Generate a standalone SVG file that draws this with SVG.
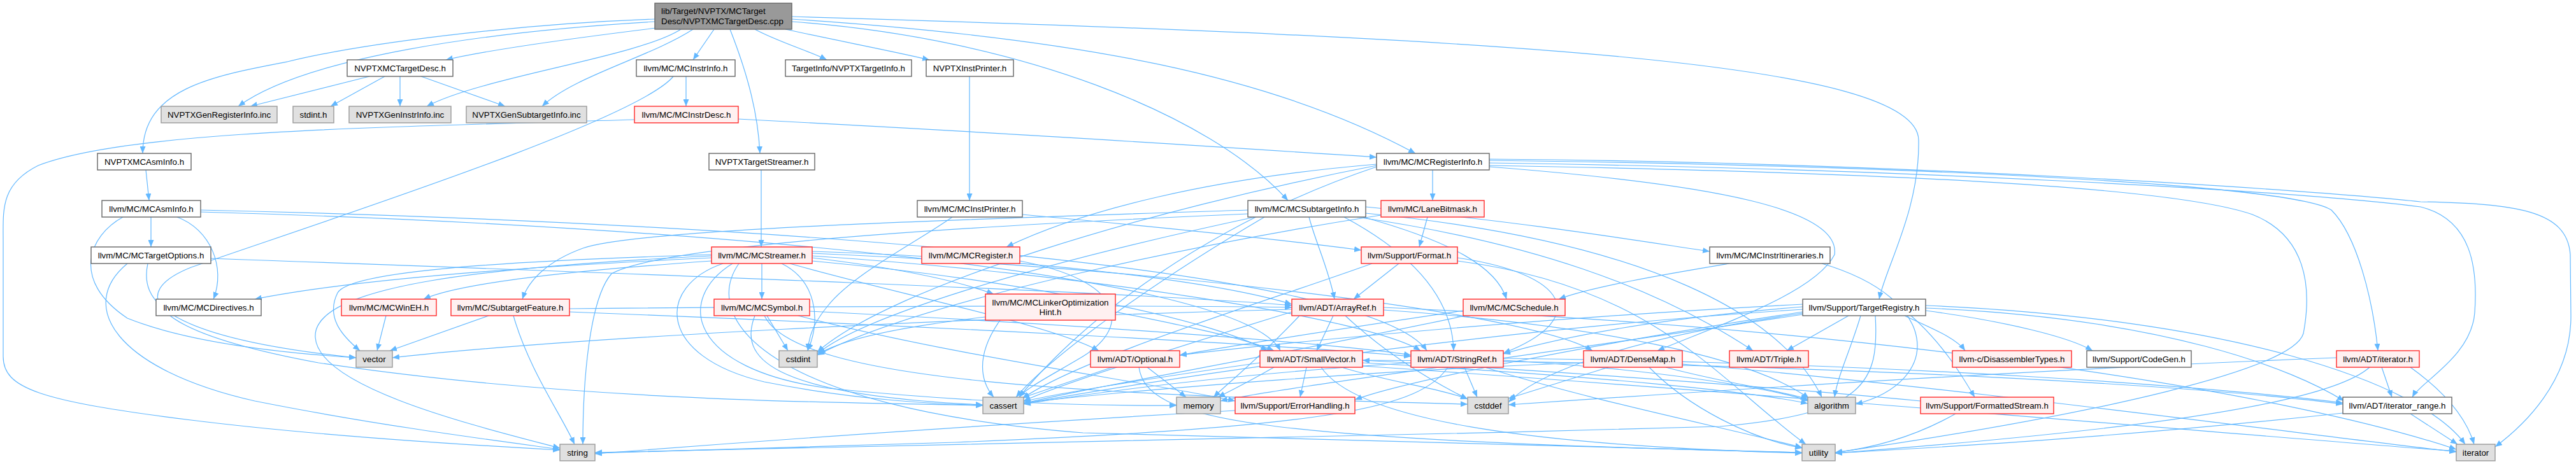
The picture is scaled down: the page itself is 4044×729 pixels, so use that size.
<svg xmlns="http://www.w3.org/2000/svg" width="4044" height="729" viewBox="0 0 4044 729">
<style>
.e{fill:none;stroke:#63b8ff;stroke-width:1.2;marker-end:url(#ah)}
.n rect{stroke-width:1.4}
.w rect{fill:#ffffff;stroke:#666666}
.g rect{fill:#e0e0e0;stroke:#999999}
.r rect{fill:#fff0f0;stroke:#ff2a2a}
.t rect{fill:#999999;stroke:#666666}
text{font-family:"Liberation Sans",Arial,sans-serif;font-size:13.33px;fill:#000;text-anchor:middle}
.t text{text-anchor:start}
</style>
<defs>
<marker id="ah" markerUnits="userSpaceOnUse" markerWidth="12" markerHeight="9" refX="11" refY="4.5" orient="auto">
<path d="M0,0 L11,4.5 L0,9 Z" fill="#63b8ff"/>
</marker>
</defs>
<rect width="4044" height="729" fill="#ffffff"/>
<g id="connectors">
<path class="e" d="M1028,30 C800,38 560,70 451,97 C330,120 224,140 224,241"/>
<path class="e" d="M1028,34 C760,50 480,90 374,167"/>
<path class="e" d="M1030,44 C900,60 760,80 700,94"/>
<path class="e" d="M1069,46 C1000,90 760,120 670,167"/>
<path class="e" d="M1088,46 C1020,90 900,120 851,167"/>
<path class="e" d="M1121,46 L1088,94"/>
<path class="e" d="M1146,46 C1175,120 1190,180 1193,241"/>
<path class="e" d="M1185,46 C1220,65 1270,80 1298,94"/>
<path class="e" d="M1233,46 C1320,65 1400,80 1459,94"/>
<path class="e" d="M1243,34 C1600,60 1900,180 2022,315"/>
<path class="e" d="M1243,30 C1700,60 2000,120 2222,241"/>
<path class="e" d="M1243,26 C2400,60 3010,100 3012,220 C3014,330 2960,420 2950,470"/>
<path class="e" d="M580,120 L393,167"/>
<path class="e" d="M604,120 L519,167"/>
<path class="e" d="M628,120 L628,167"/>
<path class="e" d="M661,120 L793,167"/>
<path class="e" d="M229,267 L234,315"/>
<path class="e" d="M237,341 L237,388"/>
<path class="e" d="M278,341 C330,360 355,420 335,470"/>
<path class="e" d="M193,341 C140,370 110,440 200,500 C300,540 450,555 559,562"/>
<path class="e" d="M315,330 C1200,350 2150,420 2240,551"/>
<path class="e" d="M315,333 C1100,355 1950,430 2010,551"/>
<path class="e" d="M232,414 C220,470 250,530 559,562"/>
<path class="e" d="M200,414 C120,480 180,580 400,630 C600,670 800,695 879,706"/>
<path class="e" d="M331,406 C1000,430 1800,460 2028,480"/>
<path class="e" d="M1077,120 L1077,167"/>
<path class="e" d="M1057,120 C1000,190 500,350 300,420 C200,460 230,520 500,570 C900,630 1300,632 1543,637"/>
<path class="e" d="M1159,187 C1600,210 1900,230 2161,247"/>
<path class="e" d="M996,188 C600,200 200,205 60,260 C0,290 5,330 5,380 L5,560 C5,610 60,630 300,660 C500,685 750,700 879,707"/>
<path class="e" d="M1522,120 L1522,315"/>
<path class="e" d="M1195,267 L1195,388"/>
<path class="e" d="M1495,341 C1440,380 1340,430 1300,480 C1275,510 1270,530 1268,551"/>
<path class="e" d="M1605,337 C1800,355 2000,375 2137,393"/>
<path class="e" d="M2055,341 C2065,380 2085,420 2095,470"/>
<path class="e" d="M2110,341 C2220,400 2280,470 2282,551"/>
<path class="e" d="M2144,325 C2400,350 2550,375 2684,395"/>
<path class="e" d="M2140,341 C2280,380 2350,420 2365,470"/>
<path class="e" d="M1959,330 C1500,345 1000,360 915,390 C860,410 830,440 820,470"/>
<path class="e" d="M2130,341 C2400,380 2600,450 2752,551"/>
<path class="e" d="M2144,335 C2600,380 2800,500 2860,624"/>
<path class="e" d="M1985,341 C1800,450 1650,560 1595,624"/>
<path class="e" d="M1970,341 C1600,420 1350,500 1283,556"/>
<path class="e" d="M1959,336 C1400,360 1030,390 960,430 C925,470 915,600 915,698"/>
<path class="e" d="M2249,267 L2249,315"/>
<path class="e" d="M2161,258 C1900,280 1700,330 1580,388"/>
<path class="e" d="M2338,262 C2700,290 2890,330 2880,400 C2850,460 2700,510 2602,551"/>
<path class="e" d="M2338,252 C3000,260 3600,290 3660,330 C3700,370 3725,470 3733,551"/>
<path class="e" d="M2338,256 C3000,265 3600,300 3800,325 C3880,345 3890,420 3885,491 C3880,560 3800,600 3787,624"/>
<path class="e" d="M2338,250 C3000,255 3650,300 3800,317 C3950,320 4030,330 4035,400 L4036,497 C4036,600 3960,670 3917,702"/>
<path class="e" d="M2338,260 C2900,270 3400,290 3536,337 C3620,370 3630,450 3616,524 C3600,580 3300,650 2881,711"/>
<path class="e" d="M2161,262 C1900,350 1700,500 1600,624"/>
<path class="e" d="M2161,260 C1800,330 1400,450 1283,553"/>
<path class="e" d="M2241,341 L2228,388"/>
<path class="e" d="M2168,338 C1900,380 1450,470 1283,558"/>
<path class="e" d="M1117,405 C800,420 550,440 400,470"/>
<path class="e" d="M1117,410 C900,425 720,445 665,470"/>
<path class="e" d="M1117,400 C800,410 550,425 530,460 C510,500 540,530 565,551"/>
<path class="e" d="M1117,402 C750,420 490,450 495,530 C500,610 750,670 879,704"/>
<path class="e" d="M1196,414 L1196,470"/>
<path class="e" d="M1227,414 C1280,440 1290,500 1268,551"/>
<path class="e" d="M1135,414 C1030,450 1030,560 1200,600 C1350,630 1480,635 1543,637"/>
<path class="e" d="M1150,414 C1060,470 1080,580 1300,610 C1600,640 1800,637 1847,637"/>
<path class="e" d="M1160,414 C1100,500 1200,640 1700,680 C2300,700 2700,708 2829,711"/>
<path class="e" d="M1275,405 C1400,420 1500,440 1560,462"/>
<path class="e" d="M1240,414 C1400,460 1650,510 1725,551"/>
<path class="e" d="M1275,410 C1600,440 1900,500 1990,551"/>
<path class="e" d="M1275,402 C1700,430 2150,500 2230,551"/>
<path class="e" d="M1275,398 C1800,420 2400,490 2500,551"/>
<path class="e" d="M1275,395 C1600,405 1900,440 2028,478"/>
<path class="e" d="M1601,410 C1760,440 1780,510 1700,560 C1650,590 1610,610 1600,624"/>
<path class="e" d="M2196,414 L2125,470"/>
<path class="e" d="M2154,414 C2000,470 1700,560 1605,626"/>
<path class="e" d="M2288,405 C2460,430 2500,500 2360,555"/>
<path class="e" d="M2288,410 C2600,450 2700,600 2835,698"/>
<path class="e" d="M2715,414 C2620,430 2500,450 2447,470"/>
<path class="e" d="M2860,414 C3050,470 3050,600 2913,635"/>
<path class="e" d="M606,496 L592,551"/>
<path class="e" d="M767,496 L612,551"/>
<path class="e" d="M806,496 C830,580 880,650 902,698"/>
<path class="e" d="M894,490 C1400,510 2000,540 2215,560"/>
<path class="e" d="M894,485 C1400,480 1900,480 2028,483"/>
<path class="e" d="M1204,496 L1237,551"/>
<path class="e" d="M1185,496 C1160,560 1200,620 1543,636"/>
<path class="e" d="M1271,489 C1700,510 2100,540 2215,558"/>
<path class="e" d="M1253,496 C1500,560 1800,600 1939,630"/>
<path class="e" d="M1200,496 C1250,600 1700,620 2304,635"/>
<path class="e" d="M1547,498 C1400,515 1320,535 1285,556"/>
<path class="e" d="M1570,503 C1530,560 1540,600 1560,624"/>
<path class="e" d="M1751,490 C1850,510 1950,530 2000,551"/>
<path class="e" d="M2093,496 L2067,551"/>
<path class="e" d="M2112,496 C2180,560 2250,600 2304,627"/>
<path class="e" d="M2172,487 C2500,510 2750,560 2840,626"/>
<path class="e" d="M2172,483 C3000,520 3600,620 3856,706"/>
<path class="e" d="M2028,490 C1800,560 1650,610 1607,630"/>
<path class="e" d="M2040,496 C1980,560 1930,600 1905,624"/>
<path class="e" d="M2028,486 C1500,500 900,530 616,562"/>
<path class="e" d="M2297,488 C2150,510 1950,540 1852,558"/>
<path class="e" d="M2300,496 C2000,560 1700,610 1607,634"/>
<path class="e" d="M2902,496 L2805,551"/>
<path class="e" d="M2921,496 C2905,550 2885,590 2880,624"/>
<path class="e" d="M2944,496 C2950,600 2930,650 2700,670 C2000,690 1200,705 934,711"/>
<path class="e" d="M2990,496 C3030,515 3070,530 3085,551"/>
<path class="e" d="M3023,488 C3150,505 3250,530 3285,551"/>
<path class="e" d="M3000,496 C3050,540 3080,590 3100,624"/>
<path class="e" d="M3023,484 C3400,500 3600,580 3680,630"/>
<path class="e" d="M3023,480 C3500,500 3800,600 3870,698"/>
<path class="e" d="M2830,478 C2400,500 2000,540 1852,558"/>
<path class="e" d="M2830,482 C2600,500 2450,530 2360,556"/>
<path class="e" d="M2830,490 C2500,540 2200,600 2127,628"/>
<path class="e" d="M2830,486 C2300,520 1800,600 1607,634"/>
<path class="e" d="M2830,492 C2500,540 2400,600 2368,632"/>
<path class="e" d="M2830,494 C2400,560 2000,610 1916,630"/>
<path class="e" d="M1746,577 L1605,625"/>
<path class="e" d="M1801,577 L1862,624"/>
<path class="e" d="M1788,577 C1800,660 1950,690 2829,711"/>
<path class="e" d="M2051,577 L2041,624"/>
<path class="e" d="M2106,577 C2180,600 2260,610 2304,627"/>
<path class="e" d="M2139,570 C2500,590 2750,615 2838,634"/>
<path class="e" d="M2139,566 C2900,570 3500,610 3678,635"/>
<path class="e" d="M2139,575 C2800,620 3600,690 3856,709"/>
<path class="e" d="M1978,570 C1800,595 1650,620 1607,631"/>
<path class="e" d="M2000,577 C1960,600 1930,615 1912,624"/>
<path class="e" d="M2074,577 C2130,660 2400,700 2829,712"/>
<path class="e" d="M2299,577 L2319,624"/>
<path class="e" d="M2360,566 C2600,580 2780,610 2840,630"/>
<path class="e" d="M2360,563 C3000,570 3500,610 3678,633"/>
<path class="e" d="M2215,570 C1900,590 1700,620 1607,635"/>
<path class="e" d="M2273,577 C2230,640 2100,670 1500,695 C1200,705 1000,710 934,712"/>
<path class="e" d="M2331,577 C2500,630 2700,670 2829,703"/>
<path class="e" d="M2525,577 L2368,626"/>
<path class="e" d="M2615,577 C2700,600 2800,615 2838,627"/>
<path class="e" d="M2589,577 C2650,640 2750,690 2829,704"/>
<path class="e" d="M2641,572 C3000,600 3600,680 3856,710"/>
<path class="e" d="M2486,570 C2200,580 1800,610 1607,633"/>
<path class="e" d="M3739,577 L3755,624"/>
<path class="e" d="M3784,577 C3830,610 3870,650 3884,698"/>
<path class="e" d="M3668,562 C3200,580 2600,620 2368,636"/>
<path class="e" d="M3720,577 C3650,640 3300,680 2881,712"/>
<path class="e" d="M1939,645 C1500,670 1100,700 934,713"/>
<path class="e" d="M3070,650 C3000,690 2930,705 2881,711"/>
<path class="e" d="M3015,630 C2700,600 2300,575 2139,566"/>
<path class="e" d="M3784,650 L3858,698"/>
<path class="e" d="M3678,649 C3300,690 3000,705 2881,712"/>
</g>
<g id="node0" class="n t"><rect x="1028" y="5" width="215" height="41"/><text x="1038" y="22">lib/Target/NVPTX/MCTarget</text><text x="1038" y="38">Desc/NVPTXMCTargetDesc.cpp</text></g>
<g id="node1" class="n w"><rect x="545" y="94" width="166" height="26"/><text x="628" y="111.5">NVPTXMCTargetDesc.h</text></g>
<g id="node2" class="n g"><rect x="253" y="167" width="182" height="26"/><text x="344" y="184.5">NVPTXGenRegisterInfo.inc</text></g>
<g id="node3" class="n g"><rect x="460" y="167" width="64" height="26"/><text x="492" y="184.5">stdint.h</text></g>
<g id="node4" class="n g"><rect x="548" y="167" width="160" height="26"/><text x="628" y="184.5">NVPTXGenInstrInfo.inc</text></g>
<g id="node5" class="n g"><rect x="732" y="167" width="189" height="26"/><text x="826.5" y="184.5">NVPTXGenSubtargetInfo.inc</text></g>
<g id="node6" class="n w"><rect x="153" y="241" width="147" height="26"/><text x="226.5" y="258.5">NVPTXMCAsmInfo.h</text></g>
<g id="node7" class="n w"><rect x="160" y="315" width="155" height="26"/><text x="237.5" y="332.5">llvm/MC/MCAsmInfo.h</text></g>
<g id="node8" class="n w"><rect x="999" y="94" width="155" height="26"/><text x="1076.5" y="111.5">llvm/MC/MCInstrInfo.h</text></g>
<g id="node9" class="n r"><rect x="996" y="167" width="163" height="26"/><text x="1077.5" y="184.5">llvm/MC/MCInstrDesc.h</text></g>
<g id="node10" class="n w"><rect x="1233" y="94" width="198" height="26"/><text x="1332" y="111.5">TargetInfo/NVPTXTargetInfo.h</text></g>
<g id="node11" class="n w"><rect x="1454" y="94" width="137" height="26"/><text x="1522.5" y="111.5">NVPTXInstPrinter.h</text></g>
<g id="node12" class="n w"><rect x="1113" y="241" width="166" height="26"/><text x="1196" y="258.5">NVPTXTargetStreamer.h</text></g>
<g id="node13" class="n w"><rect x="1440" y="315" width="165" height="26"/><text x="1522.5" y="332.5">llvm/MC/MCInstPrinter.h</text></g>
<g id="node14" class="n w"><rect x="1959" y="315" width="185" height="26"/><text x="2051.5" y="332.5">llvm/MC/MCSubtargetInfo.h</text></g>
<g id="node15" class="n w"><rect x="2161" y="241" width="177" height="26"/><text x="2249.5" y="258.5">llvm/MC/MCRegisterInfo.h</text></g>
<g id="node16" class="n r"><rect x="2168" y="315" width="162" height="26"/><text x="2249" y="332.5">llvm/MC/LaneBitmask.h</text></g>
<g id="node17" class="n w"><rect x="143" y="388" width="188" height="26"/><text x="237" y="405.5">llvm/MC/MCTargetOptions.h</text></g>
<g id="node18" class="n r"><rect x="1117" y="388" width="158" height="26"/><text x="1196" y="405.5">llvm/MC/MCStreamer.h</text></g>
<g id="node19" class="n r"><rect x="1447" y="388" width="154" height="26"/><text x="1524" y="405.5">llvm/MC/MCRegister.h</text></g>
<g id="node20" class="n r"><rect x="2137" y="388" width="151" height="26"/><text x="2212.5" y="405.5">llvm/Support/Format.h</text></g>
<g id="node21" class="n w"><rect x="2684" y="388" width="189" height="26"/><text x="2778.5" y="405.5">llvm/MC/MCInstrItineraries.h</text></g>
<g id="node22" class="n w"><rect x="245" y="470" width="165" height="26"/><text x="327.5" y="487.5">llvm/MC/MCDirectives.h</text></g>
<g id="node23" class="n r"><rect x="536" y="470" width="149" height="26"/><text x="610.5" y="487.5">llvm/MC/MCWinEH.h</text></g>
<g id="node24" class="n r"><rect x="708" y="470" width="186" height="26"/><text x="801" y="487.5">llvm/MC/SubtargetFeature.h</text></g>
<g id="node25" class="n r"><rect x="1121" y="470" width="150" height="26"/><text x="1196" y="487.5">llvm/MC/MCSymbol.h</text></g>
<g id="node26" class="n r"><rect x="1547" y="462" width="204" height="41"/><text x="1649" y="480">llvm/MC/MCLinkerOptimization</text><text x="1649" y="495">Hint.h</text></g>
<g id="node27" class="n r"><rect x="2028" y="470" width="144" height="26"/><text x="2100" y="487.5">llvm/ADT/ArrayRef.h</text></g>
<g id="node28" class="n r"><rect x="2297" y="470" width="160" height="26"/><text x="2377" y="487.5">llvm/MC/MCSchedule.h</text></g>
<g id="node29" class="n w"><rect x="2830" y="470" width="193" height="26"/><text x="2926.5" y="487.5">llvm/Support/TargetRegistry.h</text></g>
<g id="node30" class="n g"><rect x="559" y="551" width="57" height="26"/><text x="587.5" y="568.5">vector</text></g>
<g id="node31" class="n g"><rect x="1223" y="551" width="60" height="26"/><text x="1253" y="568.5">cstdint</text></g>
<g id="node32" class="n r"><rect x="1712" y="551" width="140" height="26"/><text x="1782" y="568.5">llvm/ADT/Optional.h</text></g>
<g id="node33" class="n r"><rect x="1978" y="551" width="161" height="26"/><text x="2058.5" y="568.5">llvm/ADT/SmallVector.h</text></g>
<g id="node34" class="n r"><rect x="2215" y="551" width="145" height="26"/><text x="2287.5" y="568.5">llvm/ADT/StringRef.h</text></g>
<g id="node35" class="n r"><rect x="2486" y="551" width="155" height="26"/><text x="2563.5" y="568.5">llvm/ADT/DenseMap.h</text></g>
<g id="node36" class="n r"><rect x="2715" y="551" width="124" height="26"/><text x="2777" y="568.5">llvm/ADT/Triple.h</text></g>
<g id="node37" class="n r"><rect x="3065" y="551" width="187" height="26"/><text x="3158.5" y="568.5">llvm-c/DisassemblerTypes.h</text></g>
<g id="node38" class="n w"><rect x="3276" y="551" width="164" height="26"/><text x="3358" y="568.5">llvm/Support/CodeGen.h</text></g>
<g id="node39" class="n r"><rect x="3668" y="551" width="130" height="26"/><text x="3733" y="568.5">llvm/ADT/iterator.h</text></g>
<g id="node40" class="n g"><rect x="1543" y="624" width="64" height="26"/><text x="1575" y="641.5">cassert</text></g>
<g id="node41" class="n g"><rect x="1847" y="624" width="69" height="26"/><text x="1881.5" y="641.5">memory</text></g>
<g id="node42" class="n r"><rect x="1939" y="624" width="188" height="26"/><text x="2033" y="641.5">llvm/Support/ErrorHandling.h</text></g>
<g id="node43" class="n g"><rect x="2304" y="624" width="64" height="26"/><text x="2336" y="641.5">cstddef</text></g>
<g id="node44" class="n g"><rect x="2838" y="624" width="75" height="26"/><text x="2875.5" y="641.5">algorithm</text></g>
<g id="node45" class="n r"><rect x="3015" y="624" width="209" height="26"/><text x="3119.5" y="641.5">llvm/Support/FormattedStream.h</text></g>
<g id="node46" class="n w"><rect x="3678" y="624" width="171" height="26"/><text x="3763.5" y="641.5">llvm/ADT/iterator_range.h</text></g>
<g id="node47" class="n g"><rect x="879" y="698" width="55" height="26"/><text x="906.5" y="715.5">string</text></g>
<g id="node48" class="n g"><rect x="2829" y="698" width="52" height="26"/><text x="2855" y="715.5">utility</text></g>
<g id="node49" class="n g"><rect x="3856" y="698" width="61" height="26"/><text x="3886.5" y="715.5">iterator</text></g>
</svg>
